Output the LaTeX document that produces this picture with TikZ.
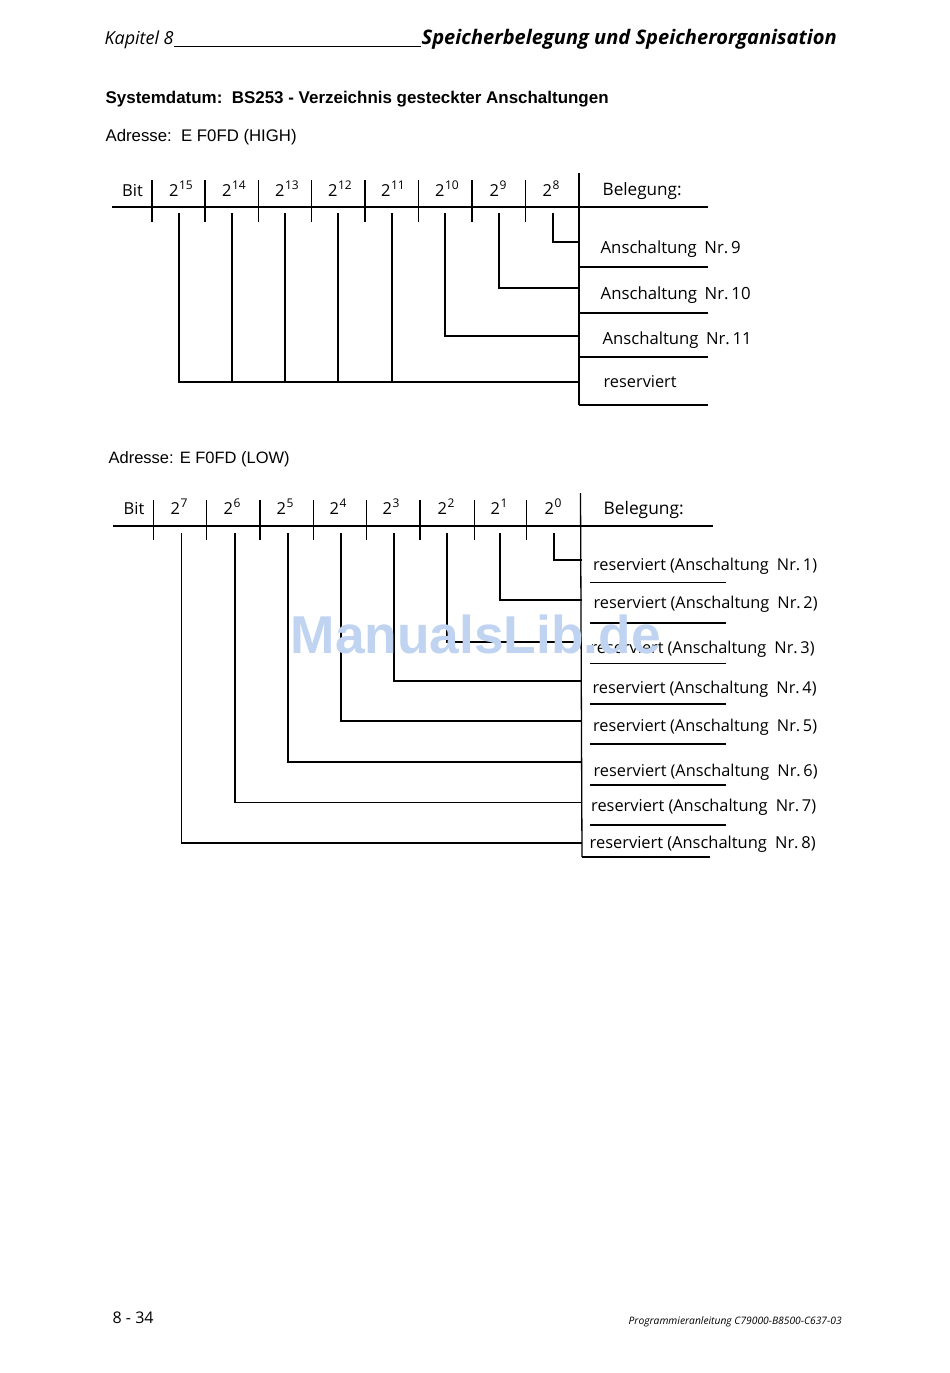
\documentclass[tikz,border=0pt]{standalone}
\usepackage{fontspec}
\setmainfont{Open Sans}
\newfontfamily\arialf{Liberation Sans}
\definecolor{wmblue}{RGB}{192,212,242}
\newcommand\fitto[3]{%
  \setbox0=\hbox{#2\fontsize{10}{12}\selectfont #3}%
  \pgfmathsetmacro\fitsz{10*#1/\the\wd0}%
  {#2\fontsize{\fitsz}{\fitsz}\selectfont #3}%
}
\newcommand\pw[1]{2\kern0.5pt\raisebox{0.4em}{\fontsize{12}{12}\selectfont #1}}
\begin{document}
\begin{tikzpicture}[x=1pt,y=-1pt,line width=1.3pt,
  hdr/.style={anchor=base,inner sep=0pt,font=\fontsize{16.5}{19}\selectfont},
  lbl/.style={anchor=base west,inner sep=0pt},
  thin/.style={line width=1pt}]
\useasboundingbox[fill=white] (0,0) rectangle (950,1373);

% page header
\node[lbl] (kap) at (104,44) {\fitto{69}{\itshape}{Kapitel 8}};
\node[lbl] (spo) at (421,44) {\fitto{415}{\bfseries\itshape}{Speicherbelegung und Speicherorganisation}};
\draw[thin] ([yshift=-2.5pt]kap.base east) -- ([yshift=-2.5pt]spo.base west);

% titles
\node[lbl] (sys) at (105,103) {\fitto{503}{\arialf\bfseries}{Systemdatum:\ \ BS253 - Verzeichnis gesteckter Anschaltungen}};
\node[lbl] (adrh) at (105,141.5) {\fitto{191}{\arialf}{Adresse:\ \ E F0FD (HIGH)}};
\node[lbl] (adrl) at (108,463.5) {\fitto{181}{\arialf}{Adresse: E F0FD (LOW)}};

% ================= HIGH =================
\draw (112,207) -- (708,207);
\foreach \x in {152,205,258.3,311.7,365,418.3,472,525.7} \draw (\x,180) -- (\x,222);
\coordinate (hvtop) at (579,173);
\coordinate (hvbot) at (579,405);
\draw (hvtop) -- (hvbot);
\foreach \y in {267,313,357,405} \draw (579,\y) -- (708,\y);

\node[hdr] (hbit) at (132.5,196) {Bit};
\node[hdr] (h15) at (181,196) {\pw{15}};
\node[hdr] (h14) at (234,196) {\pw{14}};
\node[hdr] (h13) at (287,196) {\pw{13}};
\node[hdr] (h12) at (340,196) {\pw{12}};
\node[hdr] (h11) at (393,196) {\pw{11}};
\node[hdr] (h10) at (447,196) {\pw{10}};
\node[hdr] (h9) at (498,196) {\pw{9}};
\node[hdr] (h8) at (551,196) {\pw{8}};
\node[lbl] (hbel) at (602,195) {\fitto{79}{}{Belegung:}};

\foreach \n/\x in {15/179,14/232,13/285,12/338,11/392,10/445,9/499,8/553}
  \coordinate (hc\n) at (\x,213);
\coordinate (hr8) at (579,242);
\coordinate (hr9) at (579,288);
\coordinate (hr10) at (579,336);
\coordinate (hr11) at (579,382);
\draw (hc8) |- (hr8);
\draw (hc9) |- (hr9);
\draw (hc10) |- (hr10);
\draw (hc15) |- (hr11);
\foreach \n in {14,13,12,11} \draw (hc\n) -- (hc\n |- hr11);

\node[lbl] (la9) at (600,253) {\fitto{140}{}{Anschaltung\hspace{0.45em}Nr.\,9}};
\node[lbl] (la10) at (600,299) {\fitto{150}{}{Anschaltung\hspace{0.45em}Nr.\,10}};
\node[lbl] (la11) at (602,344) {\fitto{149}{}{Anschaltung\hspace{0.45em}Nr.\,11}};
\node[lbl] (lres) at (603,387) {\fitto{73}{}{reserviert}};

% ================= LOW =================
\draw (113,526) -- (713,526);
\foreach \x in {153.3,206.7,260,313.3,366.7,420,474.3,526.7} \draw (\x,500) -- (\x,540);
\coordinate (lvtop) at (580.5,493);
\coordinate (lvbot) at (582,857);
\draw (lvtop) -- (lvbot);
\foreach \y in {582.7,623,663.3,704,744,785,825} \draw (590,\y) -- (726,\y);
\draw (582,857) -- (710,857);

\node[hdr] (lbit) at (134,514) {Bit};
\node[hdr] (l7) at (179,514) {\pw{7}};
\node[hdr] (l6) at (232,514) {\pw{6}};
\node[hdr] (l5) at (285,514) {\pw{5}};
\node[hdr] (l4) at (338,514) {\pw{4}};
\node[hdr] (l3) at (391,514) {\pw{3}};
\node[hdr] (l2) at (446,514) {\pw{2}};
\node[hdr] (l1) at (499,514) {\pw{1}};
\node[hdr] (l0) at (553,514) {\pw{0}};
\node[lbl] (lbel) at (603,514) {\fitto{80}{}{Belegung:}};

\foreach \n/\x/\y in {0/554/560,1/500/600,2/447/642,3/394/681,4/341/721,5/288/762,6/235/802.7,7/181.5/843}{
  \coordinate (lc\n) at (\x,533);
  \coordinate (lr\n) at (581.5,\y);
  \draw (lc\n) |- (lr\n);
}

\node[lbl] (r1) at (592.5,570) {\fitto{224}{}{reserviert\hspace{0.25em}(Anschaltung\hspace{0.5em}Nr.\,1)}};
\node[lbl] (r2) at (593,608) {\fitto{224}{}{reserviert\hspace{0.25em}(Anschaltung\hspace{0.5em}Nr.\,2)}};
\node[lbl] (r3) at (590,653) {\fitto{224}{}{reserviert\hspace{0.25em}(Anschaltung\hspace{0.5em}Nr.\,3)}};
\node[lbl] (r4) at (592,693) {\fitto{224}{}{reserviert\hspace{0.25em}(Anschaltung\hspace{0.5em}Nr.\,4)}};
\node[lbl] (r5) at (592.5,731.5) {\fitto{224}{}{reserviert\hspace{0.25em}(Anschaltung\hspace{0.5em}Nr.\,5)}};
\node[lbl] (r6) at (593,776) {\fitto{224}{}{reserviert\hspace{0.25em}(Anschaltung\hspace{0.5em}Nr.\,6)}};
\node[lbl] (r7) at (590.5,811) {\fitto{225}{}{reserviert\hspace{0.25em}(Anschaltung\hspace{0.5em}Nr.\,7)}};
\node[lbl] (r8) at (589,848.5) {\fitto{226}{}{reserviert\hspace{0.25em}(Anschaltung\hspace{0.5em}Nr.\,8)}};

% footer
\node[lbl] (pg) at (112,1323) {\fitto{41}{}{8 - 34}};
\node[lbl] (pa) at (628,1324) {\fitto{213}{\itshape}{Programmieranleitung C79000-B8500-C637-03}};

% watermark
\node[lbl,text=wmblue] (wm) at (290,653) {\fitto{370}{\arialf\bfseries}{ManualsLib.de}};
\end{tikzpicture}
\end{document}
